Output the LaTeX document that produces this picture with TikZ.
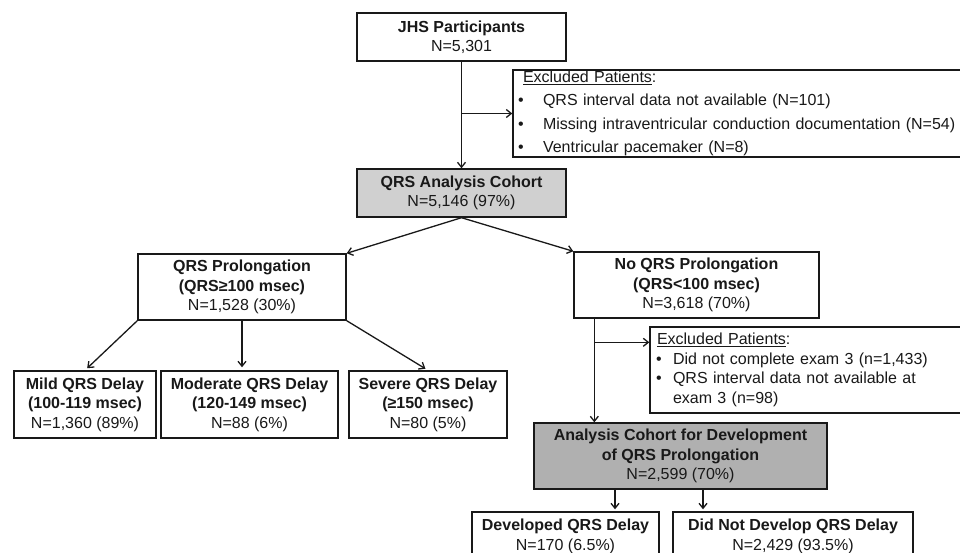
\documentclass[tikz,border=0pt]{standalone}
\usepackage{fontspec}
\setmainfont{Liberation Sans}
\usetikzlibrary{arrows.meta,calc}
\definecolor{lgray}{RGB}{208,208,208}
\definecolor{dgray}{RGB}{176,176,176}
\definecolor{ink}{RGB}{25,25,25}
\begin{document}
\begin{tikzpicture}[x=1pt,y=-1pt,
  box/.style={draw=ink, line width=1.4pt, inner sep=0pt, align=center, text=ink,
    font=\fontsize{16}{19.5}\selectfont},
  excbox/.style={draw=ink, line width=1.4pt, align=left, text=ink, inner ysep=0pt},
  arr/.style={draw=ink, line width=1.3pt, -{Straight Barb[length=5pt,width=8pt]}},
  ln/.style={draw=ink, line width=1.3pt}
]
\useasboundingbox (0,0) rectangle (960,553);
\fill[white] (0,0) rectangle (960,553);

\node[box, minimum width=209pt, minimum height=48pt] (jhs) at (461.5,37)
  {\textbf{JHS Participants}\\N=5,301};
\node[excbox, text width=439pt, inner xsep=5pt, minimum height=87pt,
  font=\fontsize{16}{23.5}\selectfont] (exc1) at (737.5,113.5)
  {\hspace*{5pt}\underline{Excluded Patients}:\\
   \makebox[25pt][l]{\textbullet}QRS interval data not available (N=101)\\
   \makebox[25pt][l]{\textbullet}Missing intraventricular conduction documentation (N=54)\\
   \makebox[25pt][l]{\textbullet}Ventricular pacemaker (N=8)};
\node[box, fill=lgray, minimum width=209pt, minimum height=48pt] (cohort) at (461.5,193)
  {\textbf{QRS Analysis Cohort}\\N=5,146 (97\%)};
\node[box, minimum width=208pt, minimum height=66pt] (prol) at (242,287)
  {\textbf{QRS Prolongation}\\\textbf{(QRS≥100 msec)}\\N=1,528 (30\%)};
\node[box, minimum width=245pt, minimum height=66pt] (noprol) at (696.5,285)
  {\textbf{No QRS Prolongation}\\\textbf{(QRS<100 msec)}\\N=3,618 (70\%)};
\node[box, minimum width=142pt, minimum height=67pt] (mild) at (85,404.5)
  {\textbf{Mild QRS Delay}\\\textbf{(100-119 msec)}\\N=1,360 (89\%)};
\node[box, minimum width=177pt, minimum height=67pt] (moderate) at (249.5,404.5)
  {\textbf{Moderate QRS Delay}\\\textbf{(120-149 msec)}\\N=88 (6\%)};
\node[box, minimum width=158pt, minimum height=67pt] (severe) at (428,404.5)
  {\textbf{Severe QRS Delay}\\\textbf{(≥150 msec)}\\N=80 (5\%)};
\node[excbox, text width=300pt, inner xsep=6pt, minimum height=86pt,
  font=\fontsize{16}{19.7}\selectfont] (exc2) at (806,370)
  {\hspace*{1pt}\underline{Excluded Patients}:\\
   \makebox[17pt][l]{\textbullet}Did not complete exam 3 (n=1,433)\\
   \makebox[17pt][l]{\textbullet}QRS interval data not available at\\
   \hspace*{17pt}exam 3 (n=98)};
\node[box, fill=dgray, minimum width=293pt, minimum height=66pt] (cohort2) at (680.5,456)
  {\textbf{Analysis Cohort for Development}\\\textbf{of QRS Prolongation}\\N=2,599 (70\%)};
\node[box, minimum width=187pt, minimum height=49pt] (dev) at (565.5,536.5)
  {\textbf{Developed QRS Delay}\\N=170 (6.5\%)};
\node[box, minimum width=240pt, minimum height=49pt] (nodev) at (793,536.5)
  {\textbf{Did Not Develop QRS Delay}\\N=2,429 (93.5\%)};

% connectors
\coordinate (b1) at (jhs.south |- exc1.west);
\draw[arr] (jhs.south) -- (cohort.north);
\draw[arr] (b1) -- (exc1.west);
\draw[arr] (cohort.south) -- (prol.north east);
\draw[arr] (cohort.south) -- (noprol.north west);

\coordinate (m1) at (prol.south |- moderate.north);
\draw[arr, shorten >=3pt] (prol.south west) -- (mild.north);
\draw[arr, shorten >=3pt] (prol.south) -- (m1);
\draw[arr, shorten >=3pt] (prol.south east) -- (severe.north);

\coordinate (n1) at ($(noprol.south west)+(21,0)$);
\coordinate (n2) at (n1 |- cohort2.north);
\coordinate (e2) at ($(exc2.north west)+(0,16)$);
\coordinate (n3) at (n1 |- e2);
\draw[arr] (n1) -- (n2);
\draw[arr] (n3) -- (e2);

\coordinate (c1) at ($(cohort2.south)+(-65.5,0)$);
\coordinate (c2) at ($(cohort2.south)+(22.5,0)$);
\coordinate (d1) at (c1 |- dev.north);
\coordinate (d2) at (c2 |- nodev.north);
\draw[arr, shorten >=2pt] (c1) -- (d1);
\draw[arr, shorten >=2pt] (c2) -- (d2);
\end{tikzpicture}
\end{document}
